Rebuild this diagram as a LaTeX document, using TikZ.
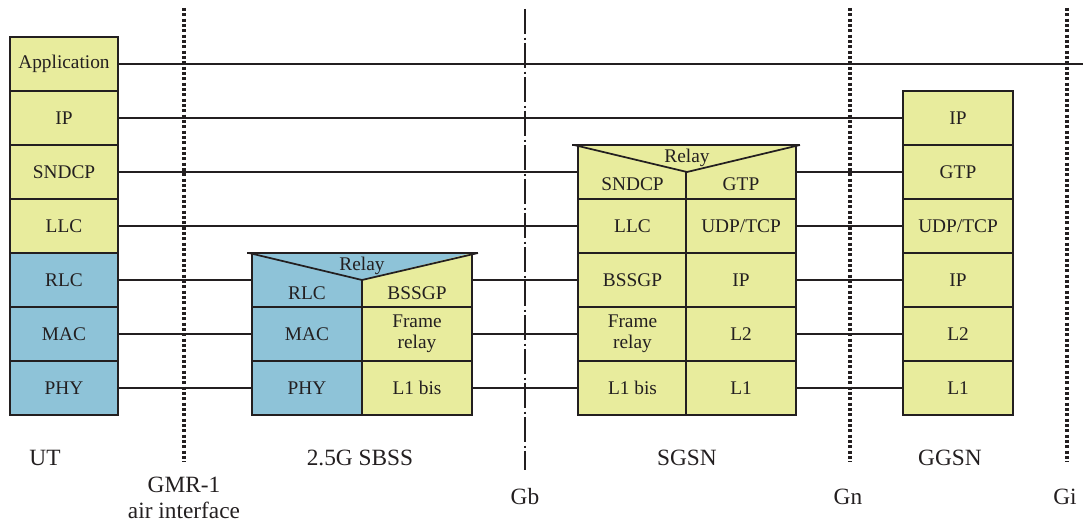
\documentclass[tikz,border=0pt]{standalone}
\usepackage{fontspec}
\setmainfont{Liberation Serif}
\definecolor{yel}{RGB}{232,236,157}
\definecolor{blu}{RGB}{142,195,216}
\definecolor{ink}{RGB}{35,31,32}
\tikzset{
 cell/.style={draw=ink, line width=1.3pt, minimum width=82pt, minimum height=40.5pt, inner sep=0pt, font=\fontsize{14.5}{16}\selectfont, text=ink, align=center},
 ycell/.style={cell, fill=yel},
 bcell/.style={cell, fill=blu},
 txt/.style={font=\fontsize{14.5}{16}\selectfont, text=ink, inner sep=0pt},
 link/.style={draw=ink, line width=1.3pt},
 dotline/.style={draw=ink, line width=2.6pt, dash pattern=on 2.2pt off 1.8pt},
 dashdotline/.style={draw=ink, line width=1.3pt, dash pattern=on 19pt off 2.5pt on 1.5pt off 2.5pt},
 lbl/.style={font=\fontsize{17.5}{19}\selectfont, text=ink, align=center, inner sep=0pt},
}
\begin{document}
\begin{tikzpicture}[x=0.75pt,y=-0.75pt]
\useasboundingbox (0,0) rectangle (1083,523);
% dividers
\draw[dotline] (184,8) -- (184,462);
\draw[dashdotline] (525,9) -- (525,470);
\draw[dotline] (850,8) -- (850,462);
\draw[dotline] (1067,8) -- (1067,462);
% UT
\node[ycell, minimum width=81pt] (ut-app) at (64,64) {Application};
\node[ycell, minimum width=81pt] (ut-ip) at (64,118) {IP};
\node[ycell, minimum width=81pt] (ut-sn) at (64,172) {SNDCP};
\node[ycell, minimum width=81pt] (ut-llc) at (64,226) {LLC};
\node[bcell, minimum width=81pt] (ut-rlc) at (64,280) {RLC};
\node[bcell, minimum width=81pt] (ut-mac) at (64,334) {MAC};
\node[bcell, minimum width=81pt] (ut-phy) at (64,388) {PHY};
% SBSS
\node[bcell] (sb-rlc) at (307,280) {};
\node[bcell] (sb-mac) at (307,334) {MAC};
\node[bcell] (sb-phy) at (307,388) {PHY};
\node[ycell] (sb-bss) at (417,280) {};
\node[ycell] (sb-fr) at (417,334) {Frame\\relay};
\node[ycell] (sb-l1) at (417,388) {L1 bis};
\fill[blu] (252,253) -- (472,253) -- (362,279.5) -- cycle;
\draw[link, line join=bevel] (249,253) -- (362,280) -- (478,253);
\draw[link] (247,253) -- (478,253);
\node[txt] (sb-relay) at (362,266) {Relay};
\node[txt] (sb-rlc-t) at (307,293) {RLC};
\node[txt] (sb-bss-t) at (417,293) {BSSGP};
% SGSN
\node[ycell] (sg-sn) at (632.5,172) {};
\node[ycell] (sg-llc) at (632.5,226) {LLC};
\node[ycell] (sg-bss) at (632.5,280) {BSSGP};
\node[ycell] (sg-fr) at (632.5,334) {Frame\\relay};
\node[ycell] (sg-l1b) at (632.5,388) {L1 bis};
\node[ycell] (sg-gtp) at (741,172) {};
\node[ycell] (sg-udp) at (741,226) {UDP/TCP};
\node[ycell] (sg-ip) at (741,280) {IP};
\node[ycell] (sg-l2) at (741,334) {L2};
\node[ycell] (sg-l1) at (741,388) {L1};
\fill[yel] (578,145) -- (795,145) -- (687,171.5) -- cycle;
\draw[link, line join=bevel] (574,145) -- (687,172) -- (800,145);
\draw[link] (572,145) -- (800,145);
\node[txt] (sg-relay) at (687,158) {Relay};
\node[txt] (sg-sn-t) at (632.5,184) {SNDCP};
\node[txt] (sg-gtp-t) at (741,184) {GTP};
% GGSN
\node[ycell] (gg-ip) at (958,118) {IP};
\node[ycell] (gg-gtp) at (958,172) {GTP};
\node[ycell] (gg-udp) at (958,226) {UDP/TCP};
\node[ycell] (gg-ip2) at (958,280) {IP};
\node[ycell] (gg-l2) at (958,334) {L2};
\node[ycell] (gg-l1) at (958,388) {L1};
% connectors
\coordinate (append) at (1083,64);
\draw[link] (ut-app.east) -- (append);
\draw[link] (ut-ip.east) -- (gg-ip.west);
\draw[link] (ut-sn.east) -- (sg-sn.west);
\draw[link] (ut-llc.east) -- (sg-llc.west);
\draw[link] (ut-rlc.east) -- (sb-rlc.west);
\draw[link] (ut-mac.east) -- (sb-mac.west);
\draw[link] (ut-phy.east) -- (sb-phy.west);
\draw[link] (sb-bss.east) -- (sg-bss.west);
\draw[link] (sb-fr.east) -- (sg-fr.west);
\draw[link] (sb-l1.east) -- (sg-l1b.west);
\draw[link] (sg-gtp.east) -- (gg-gtp.west);
\draw[link] (sg-udp.east) -- (gg-udp.west);
\draw[link] (sg-ip.east) -- (gg-ip2.west);
\draw[link] (sg-l2.east) -- (gg-l2.west);
\draw[link] (sg-l1.east) -- (gg-l1.west);
% labels
\node[lbl] (l-ut) at (45,458) {UT};
\node[lbl] (l-gmr) at (184,498) {GMR-1\\air interface};
\node[lbl] (l-sbss) at (360,458) {2.5G SBSS};
\node[lbl] (l-gb) at (525,497) {Gb};
\node[lbl] (l-sgsn) at (687,458) {SGSN};
\node[lbl] (l-gn) at (848,497) {Gn};
\node[lbl] (l-ggsn) at (950,458) {GGSN};
\node[lbl] (l-gi) at (1065,497) {Gi};
\end{tikzpicture}
\end{document}
